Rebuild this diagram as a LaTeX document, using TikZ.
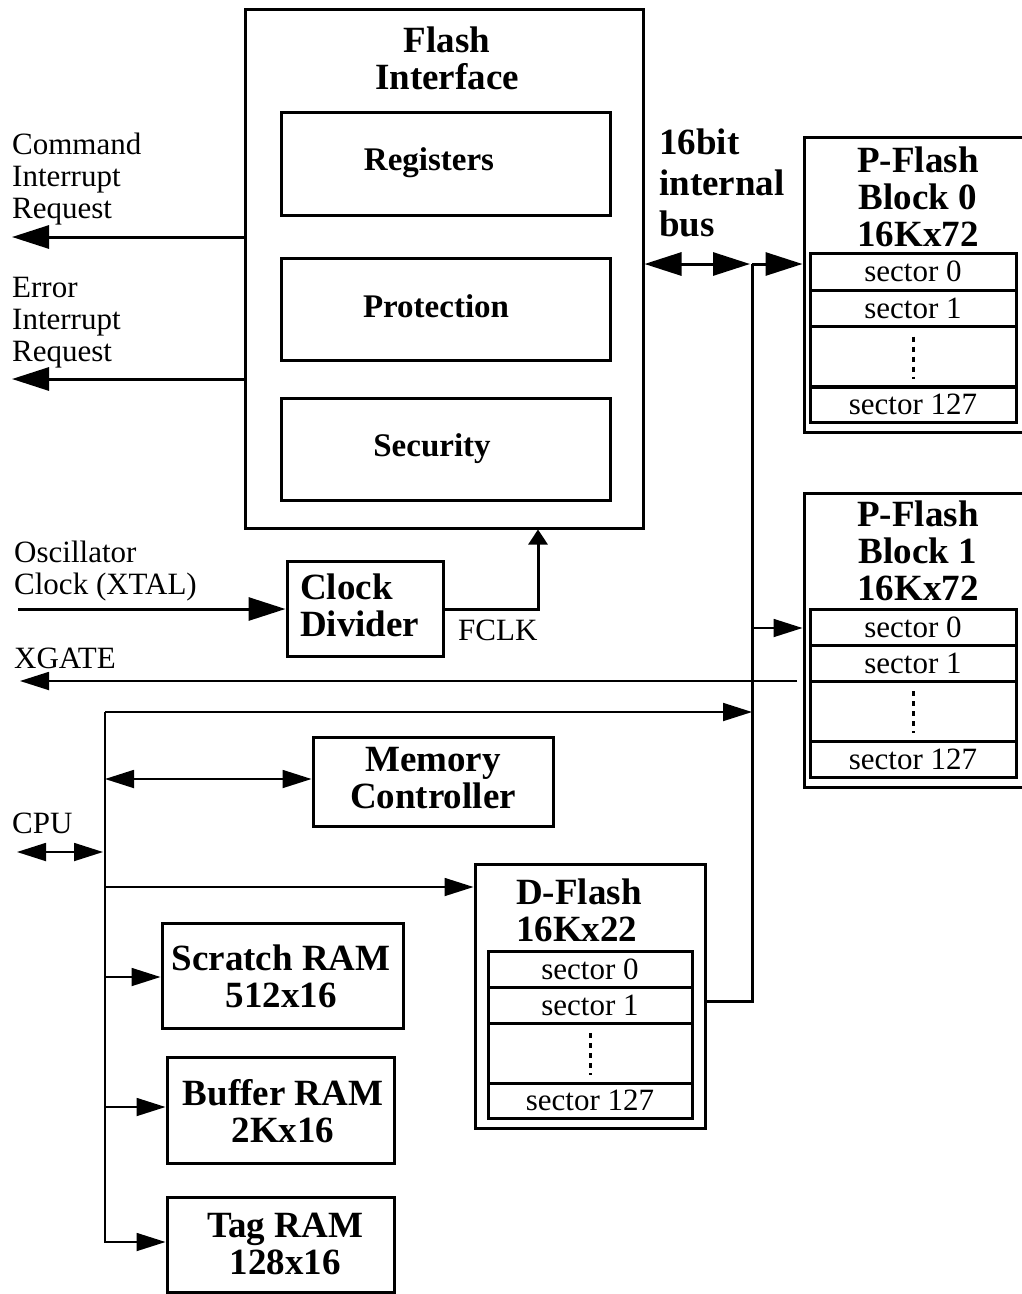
\documentclass[tikz,border=0pt]{standalone}
\usepackage{fontspec}
\setmainfont{Liberation Serif}
\usetikzlibrary{arrows.meta}
\newcommand\regf{\fontsize{31}{32}\selectfont}
\newcommand\bldf{\fontsize{37}{37}\selectfont\bfseries}
\newcommand\busf{\fontsize{37}{41}\selectfont\bfseries}
\newcommand\ibldf{\fontsize{33}{33}\selectfont\bfseries}
\begin{document}
\begin{tikzpicture}[x=1pt,y=-1pt,
  box/.style={draw, line width=3pt, inner sep=0pt},
  row/.style={draw, line width=3pt, inner sep=0pt, minimum width=206pt, font=\regf},
  drow/.style={draw, line width=3pt, inner sep=0pt, minimum width=204pt, font=\regf},
  lbl/.style={inner sep=0pt, font=\regf, align=left, anchor=west},
  btitle/.style={inner sep=0pt, font=\bldf, align=center},
  ititle/.style={inner sep=0pt, font=\ibldf},
  thickl/.style={line width=3pt},
  thinl/.style={line width=1.8pt},
  big/.style={-{Triangle[length=37pt,width=23pt]}},
  bigd/.style={{Triangle[length=37pt,width=23pt]}-{Triangle[length=37pt,width=23pt]}},
  small/.style={-{Triangle[length=29pt,width=18pt]}},
  smalld/.style={{Triangle[length=29pt,width=18pt]}-{Triangle[length=29pt,width=18pt]}},
  fclkarrow/.style={-{Triangle[length=15pt,width=19pt]}},
  dotsl/.style={line width=3pt, dash pattern=on 5pt off 5pt}
]
\useasboundingbox (0,0) rectangle (1021,1294);
\fill[white] (0,0) rectangle (1021,1294);

% ---------- Flash interface ----------
\node[box, minimum width=398pt, minimum height=519pt] (fi) at (444,268.5) {};
\node[btitle] (fititle) at (447,58.5) {Flash\\Interface};
\node[box, minimum width=329pt, minimum height=103pt] (reg) at (445.5,163.5) {};
\node[ititle] (regt) at (429,163) {Registers};
\node[box, minimum width=329pt, minimum height=102pt] (prot) at (445.5,309) {};
\node[ititle] (prott) at (436,306) {Protection};
\node[box, minimum width=329pt, minimum height=102pt] (sec) at (445.5,449) {};
\node[ititle] (sect) at (432,449) {Security};

% ---------- left labels ----------
\node[lbl] (cmdl) at (12,179.5) {Command\\Interrupt\\Request};
\node[lbl] (errl) at (12,322.5) {Error\\Interrupt\\Request};
\node[lbl] (oscl) at (14,571) {Oscillator\\Clock (XTAL)};
\node[lbl] (xgl) at (14,658) {XGATE};
\node[lbl] (cpul) at (12,823) {CPU};
\node[lbl] (fclkl) at (458,630) {FCLK};
\node[inner sep=0pt, font=\busf, align=left, anchor=west] (busl) at (659,182.5) {16bit\\internal\\bus};

% ---------- P-Flash block 0 ----------
\node[box, minimum width=232pt, minimum height=295pt] (pf0) at (920,284.5) {};
\node[btitle] (pf0t) at (918,196.5) {P-Flash\\Block 0\\16Kx72};
\node[row, minimum height=37pt] (p0s0) at (913,271.5) {sector 0};
\node[row, minimum height=36pt] (p0s1) at (913,308) {sector 1};
\node[row, minimum height=60pt] (p0d) at (913,356.5) {};
\node[row, minimum height=35pt] (p0s127) at (913,404.5) {sector 127};
\draw[dotsl] ([yshift=20pt]p0d.center) -- ([yshift=-22pt]p0d.center);

% ---------- P-Flash block 1 ----------
\node[box, minimum width=232pt, minimum height=294pt] (pf1) at (920,640) {};
\node[btitle] (pf1t) at (918,551) {P-Flash\\Block 1\\16Kx72};
\node[row, minimum height=36pt] (p1s0) at (913,627) {sector 0};
\node[row, minimum height=36pt] (p1s1) at (913,663) {sector 1};
\node[row, minimum height=60pt] (p1d) at (913,711) {};
\node[row, minimum height=36pt] (p1s127) at (913,759) {sector 127};
\draw[dotsl] ([yshift=20pt]p1d.center) -- ([yshift=-22pt]p1d.center);

% ---------- D-Flash ----------
\node[box, minimum width=230pt, minimum height=264pt] (dfl) at (590,996) {};
\node[inner sep=0pt, font=\bldf, align=left, anchor=west] (dflt) at (516,910.5) {D-Flash\\16Kx22};
\node[drow, minimum height=36pt] (ds0) at (590,969) {sector 0};
\node[drow, minimum height=36pt] (ds1) at (590,1005) {sector 1};
\node[drow, minimum height=60pt] (dd) at (590,1053) {};
\node[drow, minimum height=35pt] (ds127) at (590,1100.5) {sector 127};
\draw[dotsl] ([yshift=20pt]dd.center) -- ([yshift=-22pt]dd.center);

% ---------- Clock divider ----------
\node[box, minimum width=156pt, minimum height=95pt] (clk) at (365,608.5) {};
\node[inner sep=0pt, font=\bldf, align=left, anchor=west] (clkt) at (300,605) {Clock\\Divider};

% ---------- Memory controller and RAMs ----------
\node[box, minimum width=240pt, minimum height=89pt] (mc) at (433,781.5) {};
\node[btitle] (mct) at (433,778.5) {Memory\\Controller};
\node[box, minimum width=241pt, minimum height=105pt] (scr) at (282.5,975.5) {};
\node[btitle] (scrt) at (281,976.5) {Scratch RAM\\512x16};
\node[box, minimum width=227pt, minimum height=106pt] (buf) at (280.5,1110) {};
\node[btitle] (buft) at (283,1111.5) {Buffer RAM\\2Kx16};
\node[box, minimum width=227pt, minimum height=95pt] (tag) at (280.5,1244.5) {};
\node[btitle] (tagt) at (285,1243.5) {Tag RAM\\128x16};

% ---------- coordinates ----------
\coordinate (cmdend) at (12,237);
\coordinate (errend) at (12,379);
\coordinate (bustop) at (752,264);
\coordinate (busbot) at (752,1001);
\coordinate (bustip) at (750,264);
\coordinate (b1) at (752,628);
\coordinate (xgs) at (797,681);
\coordinate (xge) at (20,681);
\coordinate (ct) at (105,712);
\coordinate (cb) at (105,1242);
\coordinate (bm) at (752,712);
\coordinate (mcl) at (105,779);
\coordinate (cpus) at (17,852);
\coordinate (cpue) at (103,852);
\coordinate (dfa) at (105,887);
\coordinate (scra) at (105,977);
\coordinate (bufa) at (105,1107);
\coordinate (osc) at (18,609);
\coordinate (fk) at (538,609);

% ---------- connectors ----------
\draw[thickl, big] (fi.west |- cmdend) -- (cmdend);
\draw[thickl, big] (fi.west |- errend) -- (errend);
\draw[thickl, bigd] (fi.east |- bustop) -- (bustip);
\draw[thickl] (bustop) -- (busbot) -- (dfl.east |- busbot);
\draw[thickl, big] (bustop) -- (pf0.west |- bustop);
\draw[thinl, small] (b1) -- (pf1.west |- b1);
\draw[thinl, small] (xgs) -- (xge);
\draw[thinl, small] (ct) -- (bm);
\draw[thinl, small] (ct) -- (cb) -- (tag.west |- cb);
\draw[thinl, smalld] (mcl) -- (mc.west |- mcl);
\draw[thinl, smalld] (cpus) -- (cpue);
\draw[thinl, small] (dfa) -- (dfl.west |- dfa);
\draw[thinl, small] (scra) -- (scr.west |- scra);
\draw[thinl, small] (bufa) -- (buf.west |- bufa);
\draw[thickl, big] (osc) -- (clk.west |- osc);
\draw[thickl, fclkarrow] (clk.east |- fk) -- (fk) -- (fk |- fi.south);
\end{tikzpicture}
\end{document}
